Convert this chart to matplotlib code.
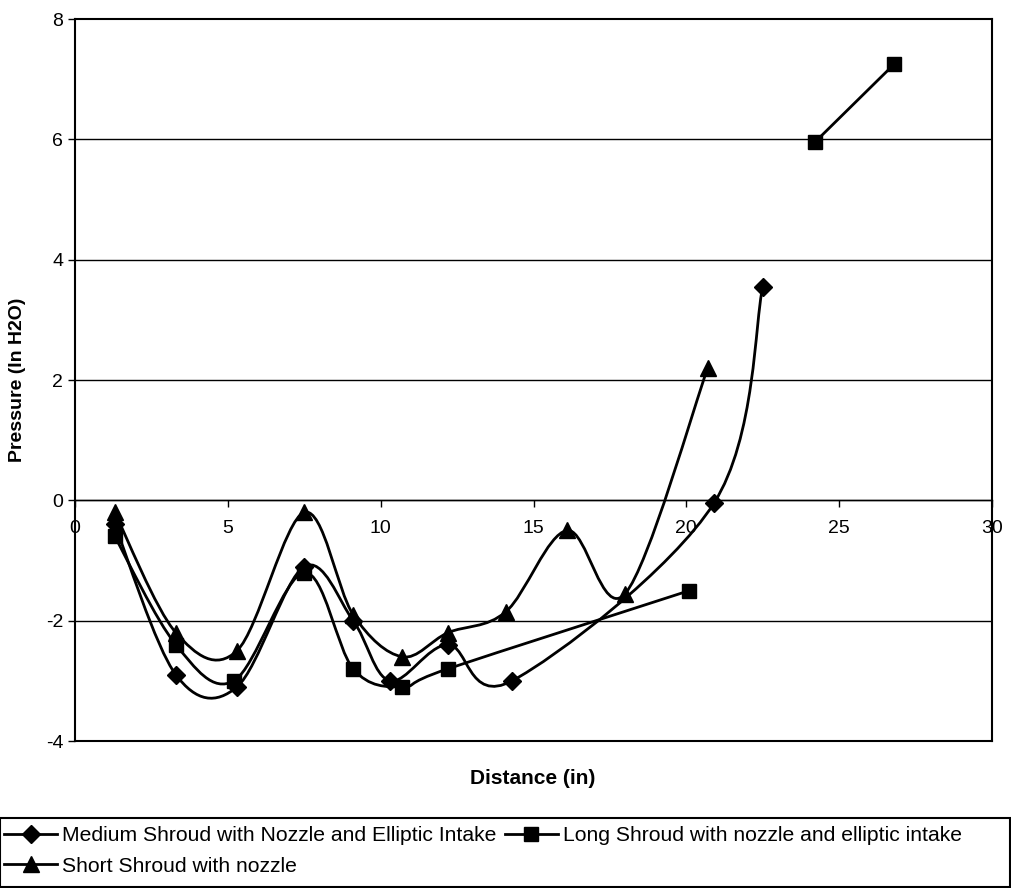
"""Pressure along shroud distance, three shroud configurations."""

import numpy as np
import matplotlib.pyplot as plt
from matplotlib.path import Path
from matplotlib.patches import PathPatch, Rectangle
from matplotlib.lines import Line2D

plt.rcParams['font.family'] = ['Liberation Sans', 'DejaVu Sans']
plt.rcParams['axes.unicode_minus'] = False

# Data
medium_x = [1.3, 3.3, 5.3, 7.5, 9.1, 10.3, 12.2, 14.3, 20.9, 22.5]
medium_y = [-0.4, -2.9, -3.1, -1.1, -2.0, -3.0, -2.4, -3.0, -0.05, 3.55]

long_x = [1.3, 3.3, 5.2, 7.5, 9.1, 10.7, 12.2, 20.1, np.nan, 24.2, 26.8]
long_y = [-0.6, -2.4, -3.0, -1.2, -2.8, -3.1, -2.8, -1.5, np.nan, 5.95, 7.25]

short_x = [1.3, 3.3, 5.3, 7.5, 9.1, 10.7, 12.2, 14.1, 16.1, 18.0, 20.7]
short_y = [-0.2, -2.2, -2.5, -0.2, -1.9, -2.6, -2.2, -1.85, -0.5, -1.55, 2.2]

labels = ['Medium Shroud with Nozzle and Elliptic Intake',
          'Long Shroud with nozzle and elliptic intake',
          'Short Shroud with nozzle']
markers = ['D', 's', '^']
marker_sizes = [9, 10, 11]


def smooth_path(xs, ys):
    """Excel-like smoothed line: cubic Bezier through points, split at NaN."""
    xs = np.asarray(xs, float)
    ys = np.asarray(ys, float)
    verts, codes = [], []
    idx = np.flatnonzero(~np.isnan(xs))
    runs = np.split(idx, np.where(np.diff(idx) != 1)[0] + 1)
    for run in runs:
        pts = np.column_stack([xs[run], ys[run]])
        n = len(pts)
        verts.append(pts[0])
        codes.append(Path.MOVETO)
        for i in range(n - 1):
            p0 = pts[max(i - 1, 0)]
            p1 = pts[i]
            p2 = pts[i + 1]
            p3 = pts[min(i + 2, n - 1)]
            c1 = p1 + (p2 - p0) / 6.0
            c2 = p2 - (p3 - p1) / 6.0
            verts.extend([c1, c2, p2])
            codes.extend([Path.CURVE4] * 3)
    return Path(verts, codes)


fig = plt.figure(figsize=(10.11, 8.88), dpi=100)
ax = fig.add_axes([75 / 1011, 1 - 741 / 888, 917 / 1011, 722 / 888])

series = [(medium_x, medium_y), (long_x, long_y), (short_x, short_y)]
handles = []
for (xs, ys), mk, ms in zip(series, markers, marker_sizes):
    patch = PathPatch(smooth_path(xs, ys), facecolor='none', edgecolor='black',
                      lw=2, zorder=3)
    ax.add_patch(patch)
    ax.plot(xs, ys, linestyle='none', marker=mk, ms=ms, color='black', zorder=4)
    handles.append(Line2D([], [], color='black', lw=2, marker=mk, ms=ms))

ax.set_xlim(0, 30)
ax.set_ylim(-4, 8)
ax.set_xticks(np.arange(0, 31, 5))
ax.set_yticks(np.arange(-4, 9, 2))

for y in np.arange(-2, 8, 2):
    ax.axhline(y, color='black', lw=1, zorder=1)

ax.spines['bottom'].set_position(('data', 0))
ax.spines['bottom'].set_linewidth(1)
ax.axhline(-4, color='black', lw=1.5, zorder=2, clip_on=False)
for s in ['left', 'right', 'top']:
    ax.spines[s].set_linewidth(1.5)

ax.tick_params(axis='both', direction='out', length=5, width=1,
               labelsize=14, colors='black')
ax.tick_params(axis='x', pad=9)

fig.text(533 / 1011, 1 - 778 / 888, 'Distance (in)', ha='center', va='center',
         fontsize=15, fontweight='bold')
fig.text(18 / 1011, 1 - 380 / 888, 'Pressure (In H2O)', ha='center', va='center',
         rotation=90, fontsize=14, fontweight='bold')

# legend box spanning the figure width; row-wise order: medium, long / short
fig.patches.append(Rectangle((0, 1 / 888), 1 - 1 / 1011, 69 / 888,
                             transform=fig.transFigure, fill=False,
                             edgecolor='black', lw=1.5))
order = [0, 2, 1]
leg = fig.legend([handles[i] for i in order], [labels[i] for i in order],
                 ncol=2, loc='upper left', bbox_to_anchor=(0.0, 1 - 822 / 888),
                 fontsize=15.2, frameon=False, handlelength=2.5,
                 handletextpad=0.25, columnspacing=0.4, borderaxespad=0,
                 borderpad=0.2, labelspacing=0.55)

fig.savefig('out.png', dpi=100)
